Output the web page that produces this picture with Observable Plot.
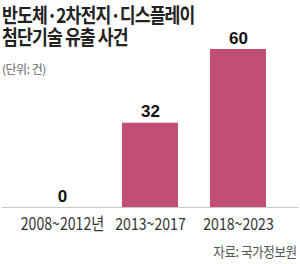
<!DOCTYPE html>
<html><head><meta charset="utf-8">
<script src="https://cdn.jsdelivr.net/npm/d3@7"></script>
<script src="https://cdn.jsdelivr.net/npm/@observablehq/plot@0.6"></script>
<style>
body{margin:0;background:#fff;font-family:"Noto Sans CJK KR","Noto Sans",sans-serif;}
#wrap{position:relative;width:300px;height:264px;overflow:hidden;}
#chart{position:absolute;left:0;top:0;}
.title{position:absolute;left:2px;top:4px;font-size:20px;font-weight:700;line-height:22px;letter-spacing:-1px;color:#222;transform:scaleX(0.86);transform-origin:0 0;white-space:nowrap;}
.unit{position:absolute;left:2px;top:60px;font-size:12px;color:#666;letter-spacing:-0.5px;}
.src{position:absolute;right:3px;top:241px;font-size:14px;color:#555;letter-spacing:-0.5px;transform:scaleX(0.9);transform-origin:100% 0;white-space:nowrap;}
</style></head>
<body><div id="wrap">
<div id="chart"></div>
<div class="title">반도체·2차전지·디스플레이<br>첨단기술 유출 사건</div>
<div class="unit">(단위: 건)</div>
<div class="src">자료: 국가정보원</div>
</div>
<script>
const periods = ["2008~2012년", "2013~2017", "2018~2023"];
const cases = [0, 32, 60];
const data = periods.map((p, i) => ({period: p, value: cases[i]}));

const chart = Plot.plot({
  width: 300,
  height: 264,
  marginTop: 49,
  marginBottom: 57,
  marginLeft: 2,
  marginRight: 2,
  style: {fontFamily: '"Noto Sans CJK KR","Noto Sans",sans-serif', background: "transparent"},
  x: {domain: periods, padding: 0.36, label: null},
  y: {domain: [0, 60], axis: null},
  marks: [
    Plot.barY(data, {x: "period", y: "value", fill: "#c24d77"}),
    Plot.ruleY([0], {stroke: "#c8c8c8", strokeWidth: 1.2}),
    Plot.text(data, {x: "period", y: "value", text: d => String(d.value), lineAnchor: "bottom", dy: -6, fontSize: 17, fontWeight: 700, fill: "#111", fontFamily: '"Liberation Sans",Arial,sans-serif'}),
    Plot.axisX({tickSize: 0, tickPadding: 10, fontSize: 17, color: "#333", label: null, fontFamily: '"Noto Sans CJK KR",sans-serif'})
  ]
});
// condense the tick labels horizontally, like the reference's narrow type
d3.select(chart).selectAll('g[aria-label="x-axis tick label"] text').each(function() {
  const t = this.getAttribute("transform") || "";
  this.setAttribute("transform", t + " scale(0.83,1)");
});
document.getElementById("chart").appendChild(chart);
</script>
</body></html>
